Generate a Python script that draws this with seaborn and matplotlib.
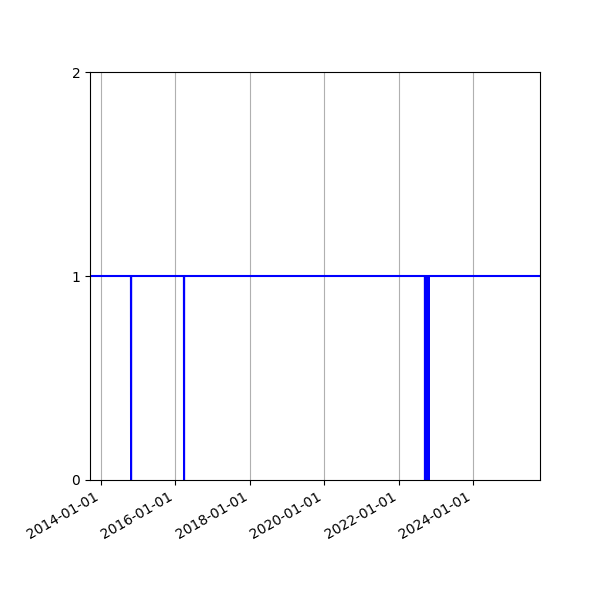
import matplotlib
matplotlib.use("Agg")
import matplotlib.pyplot as plt
import matplotlib.dates as mdates
import seaborn as sns
import pandas as pd

# status series: 1 = up, 0 = down (dates)
dates = ["2013-09-01",
         "2014-10-22", "2014-10-23", "2014-10-24",
         "2016-03-25", "2016-03-26", "2016-03-27",
         "2022-09-15", "2022-09-16", "2022-09-17",
         "2022-09-22", "2022-09-23", "2022-09-24",
         "2022-09-29", "2022-09-30", "2022-10-01",
         "2022-10-06", "2022-10-07", "2022-10-08",
         "2022-10-13", "2022-10-14", "2022-10-15",
         "2022-10-20", "2022-10-21", "2022-10-22",
         "2025-12-31"]
status = [1,
          1, 0, 1,
          1, 0, 1,
          1, 0, 1,
          1, 0, 1,
          1, 0, 1,
          1, 0, 1,
          1, 0, 1,
          1, 0, 1,
          1]

df = pd.DataFrame({"date": pd.to_datetime(dates), "status": status})

fig, ax = plt.subplots(figsize=(6, 6))
sns.lineplot(x="date", y="status", data=df, ax=ax, color="blue", linewidth=1.5)

ax.set_xlim(pd.Timestamp("2013-09-15"), pd.Timestamp("2025-10-19"))
ax.set_ylim(0, 2)
ax.set_yticks([0, 1, 2])
ax.xaxis.set_major_locator(mdates.YearLocator(2))
ax.xaxis.set_major_formatter(mdates.DateFormatter("%Y-%m-%d"))
ax.grid(axis="x")
ax.set_xlabel("")
ax.set_ylabel("")
fig.autofmt_xdate()
fig.subplots_adjust(left=0.15)

plt.savefig("out.png", dpi=100)
